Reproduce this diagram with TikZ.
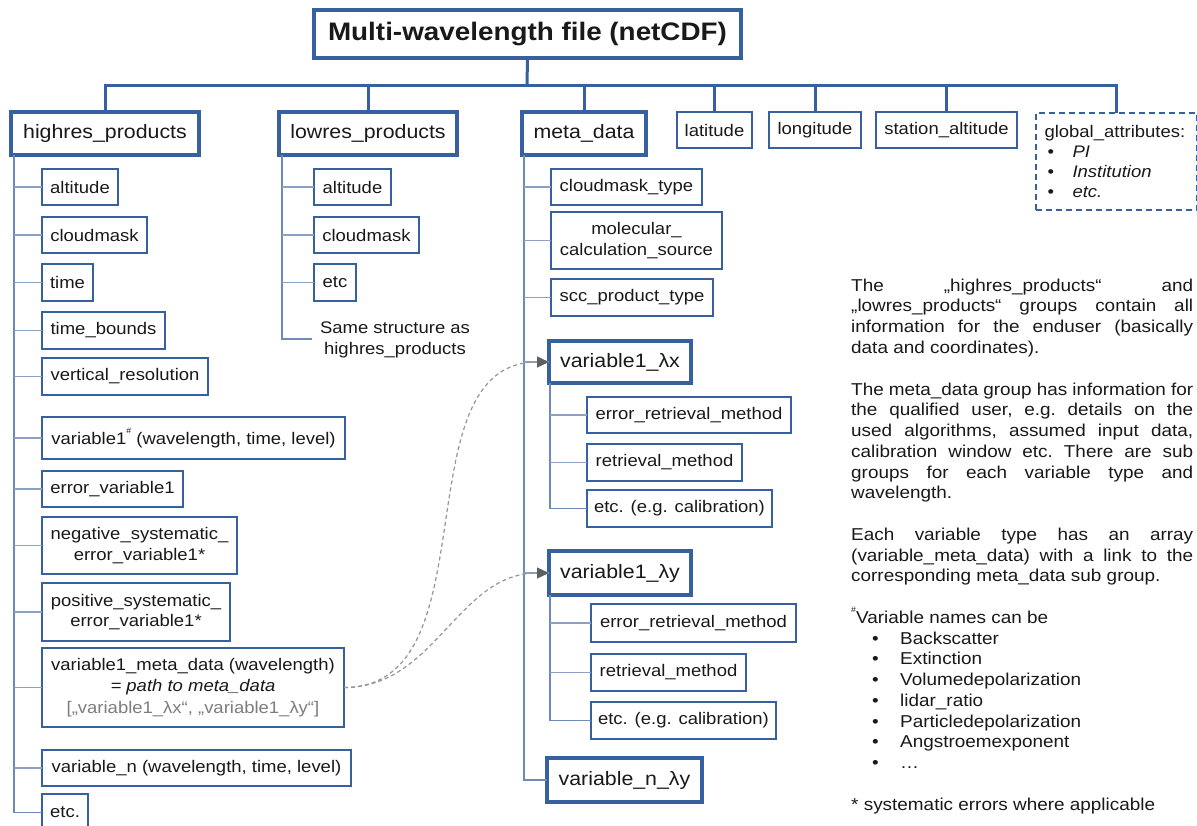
\documentclass[tikz,border=0pt]{standalone}
\usepackage{fontspec}
\setmainfont{Liberation Sans}[FakeStretch=1.1]
\usetikzlibrary{arrows.meta}
\setlength{\parindent}{0pt}
\hbadness=10000
\definecolor{boxblue}{RGB}{55,96,160}
\definecolor{branchblue}{RGB}{110,138,185}
\definecolor{stubblue}{RGB}{140,160,198}
\definecolor{txt}{RGB}{25,25,25}
\definecolor{linkgray}{RGB}{150,150,150}
\definecolor{tipgray}{RGB}{95,95,95}
\definecolor{notegray}{RGB}{125,125,125}
\newcommand\leafsize{\fontsize{16.8}{20.5}\selectfont}
\newcommand\headsize{\fontsize{19.4}{23}\selectfont}
\newcommand\hashsup{\raisebox{1.15ex}{\fontsize{8}{8}\selectfont\#}}
\newcommand\bx[7]{\node[#2, minimum width={(#5)-(#3)}, minimum height={(#6)-(#4)}] (#1) at ({((#3)+(#5))/2},{((#4)+(#6))/2}) {#7};}
\tikzset{
  leaf/.style={draw=boxblue, line width=2.2pt, inner sep=0pt, outer sep=0pt, font=\leafsize, text=txt, align=center, fill=white},
  head/.style={leaf, line width=4pt, font=\headsize},
  trunk/.style={draw=boxblue, line width=3pt},
  vbranch/.style={draw=branchblue, line width=1.8pt},
  stub/.style={draw=stubblue, line width=1.4pt},
  link/.style={draw=linkgray, line width=1.2pt, dash pattern=on 4pt off 3pt, -{Triangle[length=12pt,width=11pt,color=tipgray,fill=tipgray]}},
}
\begin{document}
\begin{tikzpicture}[x=1pt,y=-1pt]
\useasboundingbox (0,0) rectangle (1197,825);
\clip (0,0) rectangle (1197,825);
\fill[white] (0,0) rectangle (1197,825);

% title and top level
\bx{title}{head, line width=4.5pt, font=\fontsize{25.3}{30}\selectfont\bfseries}{314}{10}{741}{58}{Multi-wavelength file (netCDF)}
\bx{hi}{head}{11}{112}{199}{155}{highres\_products}
\bx{lo}{head}{279}{112}{457}{155}{lowres\_products}
\bx{meta}{head}{522}{112}{646}{155}{meta\_data}
\bx{lat}{leaf}{677}{112}{752}{148}{latitude}
\bx{lon}{leaf}{769}{112}{861}{148}{longitude}
\bx{stalt}{leaf}{876}{112}{1017}{148}{station\_altitude}
\node[leaf, line width=2pt, dash pattern=on 6pt off 4pt, text width=143pt, inner xsep=9pt, minimum height=97pt, align=left, font=\fontsize{16.8}{20}\selectfont] (glob) at (1116,161.5)
  {global\_attributes:\\
   \makebox[28pt][l]{\hspace{3pt}\textbullet}\textit{PI}\\
   \makebox[28pt][l]{\hspace{3pt}\textbullet}\textit{Institution}\\
   \makebox[28pt][l]{\hspace{3pt}\textbullet}\textit{etc.}};

\coordinate (bus) at (527,85);
\draw[trunk] (title.south) -- (bus);
\draw[trunk] (hi.north) |- (bus) -| (glob.north);
\foreach \n in {lo,meta,lat,lon,stalt} \draw[trunk] (\n.north) -- (\n.north |- bus);

% highres children
\bx{halt}{leaf}{42}{169}{118}{205}{altitude}
\bx{hcm}{leaf}{42}{217}{147}{253}{cloudmask}
\bx{htime}{leaf}{42}{264}{93}{301}{time}
\bx{htb}{leaf}{42}{312}{165}{349}{time\_bounds}
\bx{hvr}{leaf}{42}{358}{208}{395}{vertical\_resolution}
\bx{hv1}{leaf}{42}{417}{345}{459}{variable1\hashsup\ (wavelength, time, level)}
\bx{hev}{leaf}{42}{471}{183}{507}{error\_variable1}
\bx{hneg}{leaf}{42}{517}{237}{574}{negative\_systematic\_\\error\_variable1*}
\bx{hpos}{leaf}{42}{583}{230}{641}{positive\_systematic\_\\error\_variable1*}
\bx{hvm}{leaf, font=\fontsize{16.8}{21.5}\selectfont}{42}{648}{344}{727}{variable1\_meta\_data (wavelength)\\\textit{= path to meta\_data}\\\textcolor{notegray}{[„variable1\_λx“, „variable1\_λy“]}}
\bx{hvn}{leaf}{42}{750}{351}{786}{variable\_n (wavelength, time, level)}
\bx{hetc}{leaf}{42}{794}{88}{831}{etc.}

\coordinate (hiv) at ([xshift=3pt]hi.south west);
\draw[vbranch] (hiv) |- (hetc.west);
\foreach \c in {halt,hcm,htime,htb,hvr,hv1,hev,hneg,hpos,hvm,hvn} \draw[stub] (\c.west) -- (\c.west -| hiv);

% lowres children
\bx{lalt}{leaf}{314}{169}{391}{205}{altitude}
\bx{lcm}{leaf}{314}{217}{419}{253}{cloudmask}
\bx{letc}{leaf}{314}{264}{356}{301}{etc}
\node[font=\leafsize, text=txt, align=center, inner sep=0pt] (lsame) at (395,340) {Same structure as\\highres\_products};
\coordinate (lsamec) at (312,339);
\coordinate (lov) at ([xshift=3pt]lo.south west);
\draw[vbranch] (lov) |- (lsamec);
\foreach \c in {lalt,lcm,letc} \draw[stub] (\c.west) -- (\c.west -| lov);

% meta children
\bx{mcm}{leaf}{551}{169}{702}{205}{cloudmask\_type}
\bx{mmol}{leaf}{551}{212}{722}{269}{molecular\_\\calculation\_source}
\bx{mscc}{leaf}{551}{279}{713}{316}{scc\_product\_type}
\bx{vx}{head}{549}{341}{691}{383}{variable1\_λx}
\bx{xerr}{leaf}{587}{397}{791}{433}{error\_retrieval\_method}
\bx{xret}{leaf}{587}{444}{742}{481}{retrieval\_method}
\bx{xetc}{leaf}{587}{490}{772}{527}{etc. (e.g. calibration)}
\bx{vy}{head}{549}{551}{691}{595}{variable1\_λy}
\bx{yerr}{leaf}{591}{604}{796}{642}{error\_retrieval\_method}
\bx{yret}{leaf}{591}{654}{746}{691}{retrieval\_method}
\bx{yetc}{leaf}{591}{702}{776}{739}{etc. (e.g. calibration)}
\bx{vn}{head}{547}{758}{702}{802}{variable\_n\_λy}

\coordinate (mev) at ([xshift=2pt]meta.south west);
\draw[vbranch] (mev) |- (vn.west);
\foreach \c in {mcm,mmol,mscc,vx,vy} \draw[stub] (\c.west) -- (\c.west -| mev);
\coordinate (vxv) at ([xshift=1pt]vx.south west);
\draw[vbranch] (vxv) |- (xetc.west);
\foreach \c in {xerr,xret} \draw[stub] (\c.west) -- (\c.west -| vxv);
\coordinate (vyv) at ([xshift=1pt]vy.south west);
\draw[vbranch] (vyv) |- (yetc.west);
\foreach \c in {yerr,yret} \draw[stub] (\c.west) -- (\c.west -| vyv);

% links
\draw[link] (hvm.east) to[out=0,in=180] (vx.west);
\draw[link] (hvm.east) to[out=0,in=180] (vy.west);

% notes
\node[anchor=north west, inner sep=0pt, text width=342pt, align=justify, text=txt, font=\fontsize{17.2}{20.76}\selectfont] (notes) at (851,276.5) {\frenchspacing\strut
The „highres\_products“ and\linebreak „lowres\_products“ groups contain all\linebreak information for the enduser (basically\linebreak data and coordinates).\par\vspace{20.76pt}
The meta\_data group has information for\linebreak the qualified user, e.g. details on the\linebreak used algorithms, assumed input data,\linebreak calibration window etc. There are sub\linebreak groups for each variable type and\linebreak wavelength.\par\vspace{20.76pt}
Each variable type has an array\linebreak (variable\_meta\_data) with a link to the\linebreak corresponding meta\_data sub group.\par\vspace{20.76pt}
\hashsup Variable names can be\par
\hspace*{21pt}\makebox[28pt][l]{\textbullet}Backscatter\par
\hspace*{21pt}\makebox[28pt][l]{\textbullet}Extinction\par
\hspace*{21pt}\makebox[28pt][l]{\textbullet}Volumedepolarization\par
\hspace*{21pt}\makebox[28pt][l]{\textbullet}lidar\_ratio\par
\hspace*{21pt}\makebox[28pt][l]{\textbullet}Particledepolarization\par
\hspace*{21pt}\makebox[28pt][l]{\textbullet}Angstroemexponent\par
\hspace*{21pt}\makebox[28pt][l]{\textbullet}…\par\vspace{20.76pt}
* systematic errors where applicable};
\end{tikzpicture}
\end{document}
